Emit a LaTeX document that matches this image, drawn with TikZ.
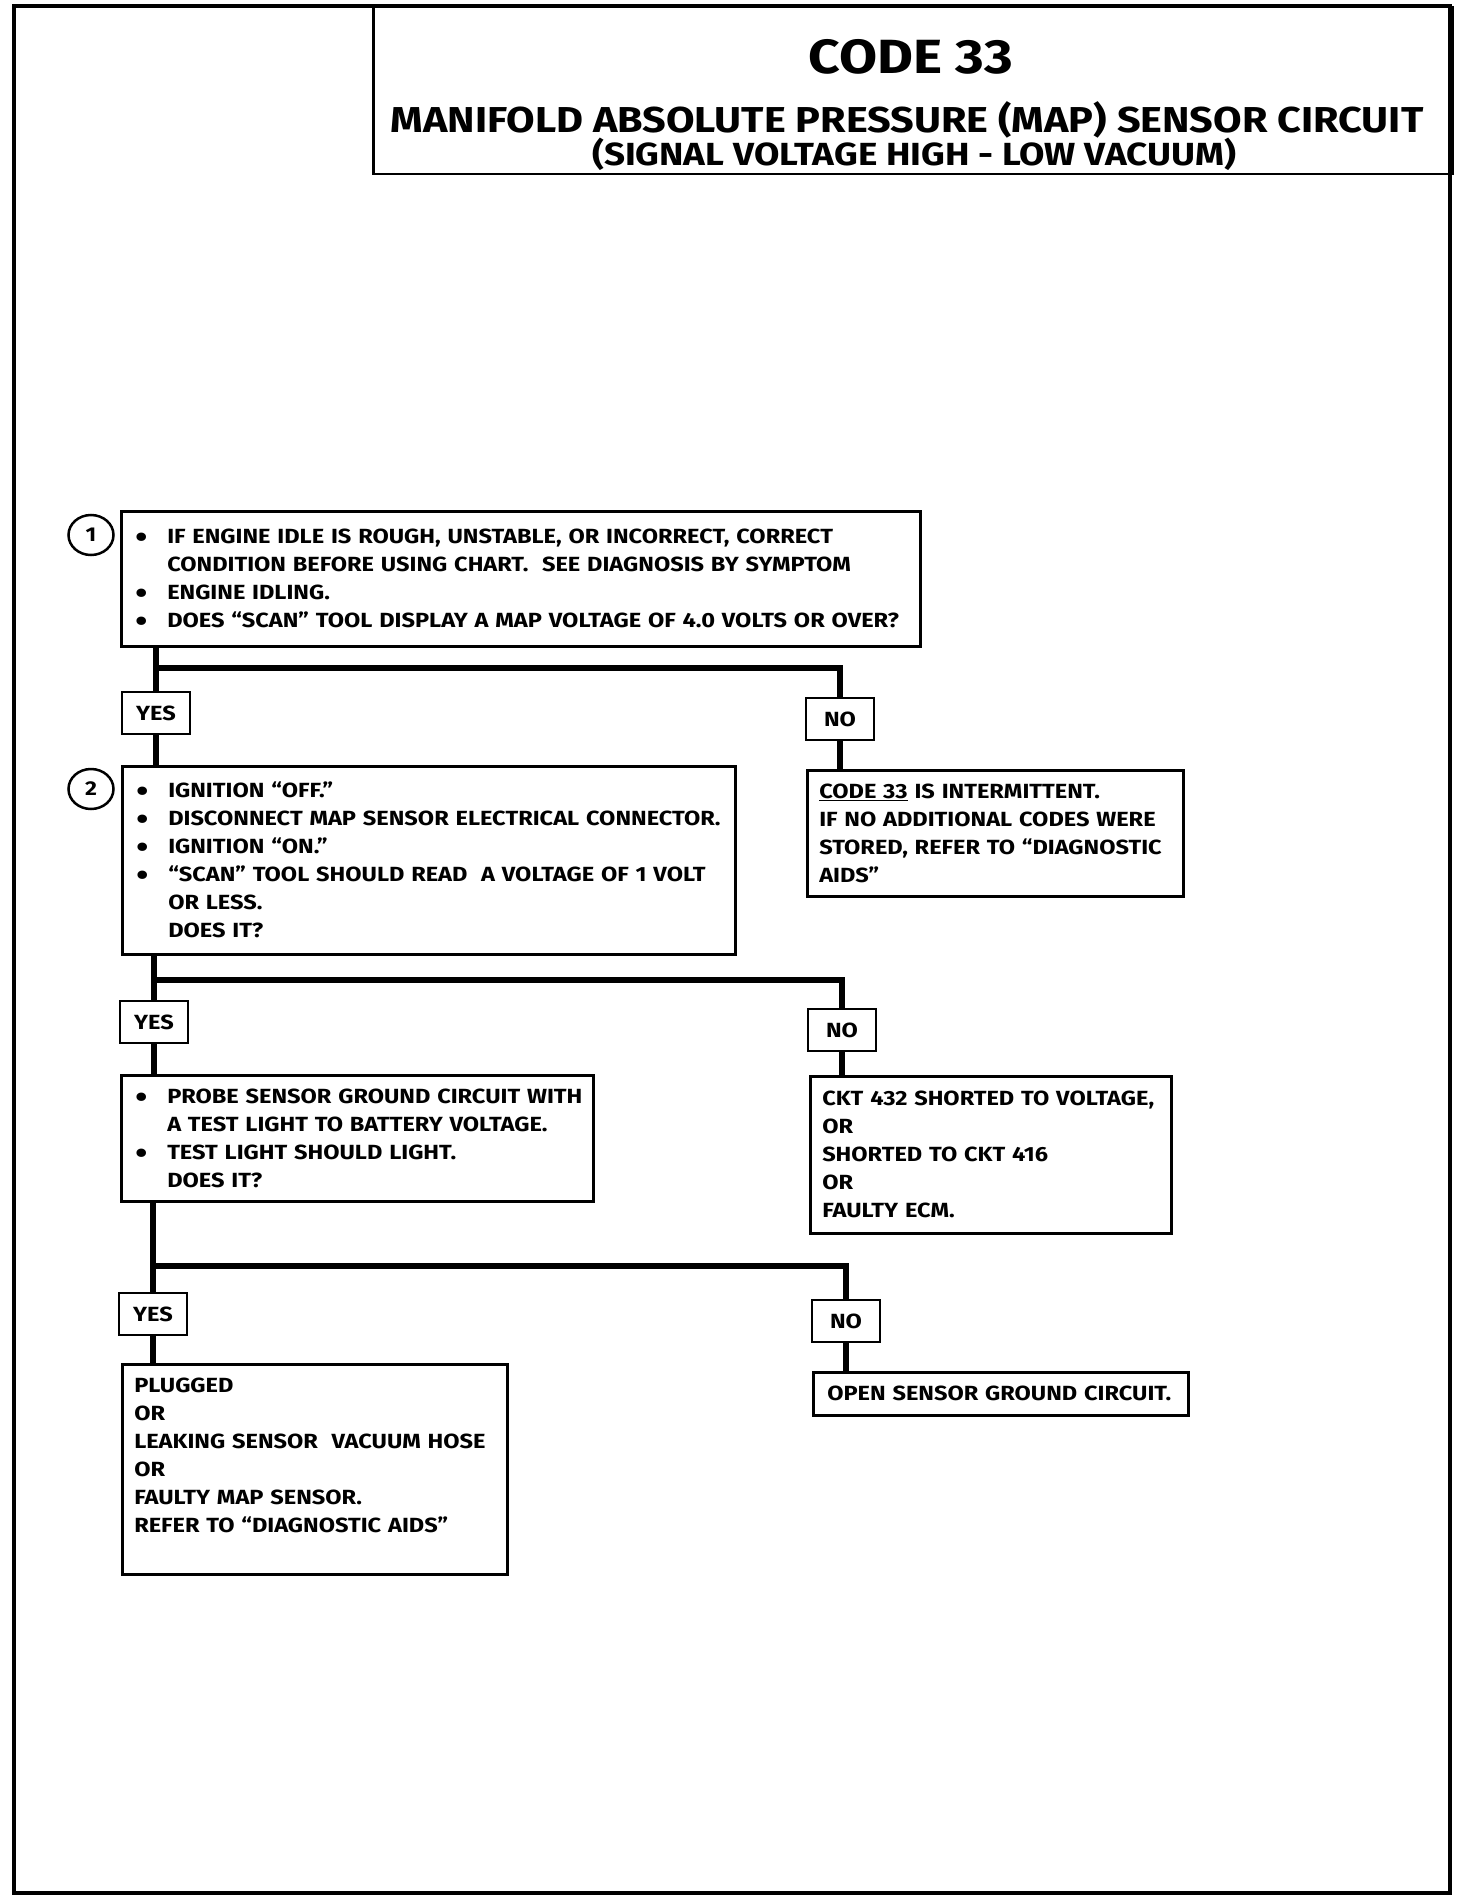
\documentclass[tikz,border=0pt]{standalone}
\usepackage{fontspec}
\setmainfont{Fira Sans}[FakeStretch=1.15]
\usetikzlibrary{shapes.geometric}
\newcommand{\bul}{\makebox[34pt][l]{\hspace{2pt}\raisebox{-4pt}[0pt][0pt]{\fontsize{30}{28}\selectfont\textbullet}}}
\newcommand{\ind}{\makebox[34pt]{}}
\tikzset{
  stepbox/.style={draw,line width=2.5pt,anchor=north west,align=left,inner xsep=12pt,inner ysep=6pt,font=\bfseries\fontsize{20.5}{28}\selectfont},
  answer/.style={draw,line width=2.5pt,minimum width=68pt,minimum height=42pt,inner sep=0pt,font=\bfseries\fontsize{20.5}{24}\selectfont},
  stepnum/.style={draw,ellipse,line width=2.5pt,minimum width=45pt,minimum height=40pt,inner sep=0pt,font=\bfseries\fontsize{20}{24}\selectfont},
  flow/.style={line width=6pt}
}
\begin{document}
\begin{tikzpicture}[x=1pt,y=-1pt]
  \useasboundingbox (0,0) rectangle (1472,1902);
  \draw[line width=4pt] (14,6) rectangle (1450,1893);
  \node[draw,line width=2.5pt,anchor=north west,minimum width=1079pt,minimum height=167pt] (title) at (372,6) {};
  \node[anchor=base,font=\bfseries\fontsize{48}{50}\selectfont] (code) at (911,74) {CODE 33};
  \node[anchor=base,font=\bfseries\fontsize{36}{40}\selectfont] (sub) at (907,133) {MANIFOLD ABSOLUTE PRESSURE (MAP) SENSOR CIRCUIT};
  \node[anchor=base,font=\bfseries\fontsize{32}{34}\selectfont] (sig) at (914,166) {(SIGNAL VOLTAGE HIGH - LOW VACUUM)};

  \node[stepbox,text width=775pt,minimum height=135pt] (b1) at (120,510) {\bul IF ENGINE IDLE IS ROUGH, UNSTABLE, OR INCORRECT, CORRECT\\
    \ind CONDITION BEFORE USING CHART.\ \ SEE DIAGNOSIS BY SYMPTOM\\
    \bul ENGINE IDLING.\\
    \bul \mbox{DOES “SCAN” TOOL DISPLAY A MAP VOLTAGE OF 4.0 VOLTS OR OVER?}};
  \node[stepnum] (c1) at (91,535) {1};
  \node[answer] (y1) at (156,713) {YES};
  \node[answer] (n1) at (840,719) {NO};
  \node[stepbox,text width=589pt,minimum height=188pt] (b2) at (121,765) {\bul IGNITION “OFF.”\\
    \bul DISCONNECT MAP SENSOR ELECTRICAL CONNECTOR.\\
    \bul IGNITION “ON.”\\
    \bul “SCAN” TOOL SHOULD READ\ \ A VOLTAGE OF 1 VOLT\\
    \ind OR LESS.\\
    \ind DOES IT?};
  \node[stepnum] (c2) at (91,789) {2};
  \node[stepbox,text width=352pt,minimum height=126pt] (r1) at (806,769) {\underline{CODE 33} IS INTERMITTENT.\\
    IF NO ADDITIONAL CODES WERE\\
    STORED, REFER TO “DIAGNOSTIC\\
    AIDS”};
  \node[answer] (y2) at (154,1022) {YES};
  \node[answer] (n2) at (842,1030) {NO};
  \node[stepbox,text width=448pt,minimum height=126pt] (b3) at (120,1074) {\bul \mbox{PROBE SENSOR GROUND CIRCUIT WITH}\\
    \ind A TEST LIGHT TO BATTERY VOLTAGE.\\
    \bul TEST LIGHT SHOULD LIGHT.\\
    \ind DOES IT?};
  \node[stepbox,text width=337pt,minimum height=157pt] (r2) at (809,1075) {CKT 432 SHORTED TO VOLTAGE,\\
    OR\\
    SHORTED TO CKT 416\\
    OR\\
    FAULTY ECM.};
  \node[answer] (y3) at (153,1314) {YES};
  \node[answer] (n3) at (846,1321) {NO};
  \node[stepbox,text width=361pt,minimum height=210pt] (b4) at (121,1363) {PLUGGED\\
    OR\\
    LEAKING SENSOR\ \ VACUUM HOSE\\
    OR\\
    FAULTY MAP SENSOR.\\
    REFER TO “DIAGNOSTIC AIDS”\\
    \mbox{}};
  \node[stepbox,text width=347pt,minimum height=43pt,inner xsep=14pt] (r3) at (812,1371) {OPEN SENSOR GROUND CIRCUIT.};

  \coordinate (j1) at (156,668);
  \coordinate (j2) at (154,980);
  \coordinate (j3) at (153,1266);
  \draw[flow] (b1.south -| y1) -- (y1.north);
  \draw[flow] (j1) -| (n1.north);
  \draw[flow] (y1.south) -- (y1.south |- b2.north);
  \draw[flow] (n1.south) -- (n1.south |- r1.north);
  \draw[flow] (b2.south -| y2) -- (y2.north);
  \draw[flow] (j2) -| (n2.north);
  \draw[flow] (y2.south) -- (y2.south |- b3.north);
  \draw[flow] (n2.south) -- (n2.south |- r2.north);
  \draw[flow] (b3.south -| y3) -- (y3.north);
  \draw[flow] (j3) -| (n3.north);
  \draw[flow] (y3.south) -- (y3.south |- b4.north);
  \draw[flow] (n3.south) -- (n3.south |- r3.north);
\end{tikzpicture}
\end{document}
